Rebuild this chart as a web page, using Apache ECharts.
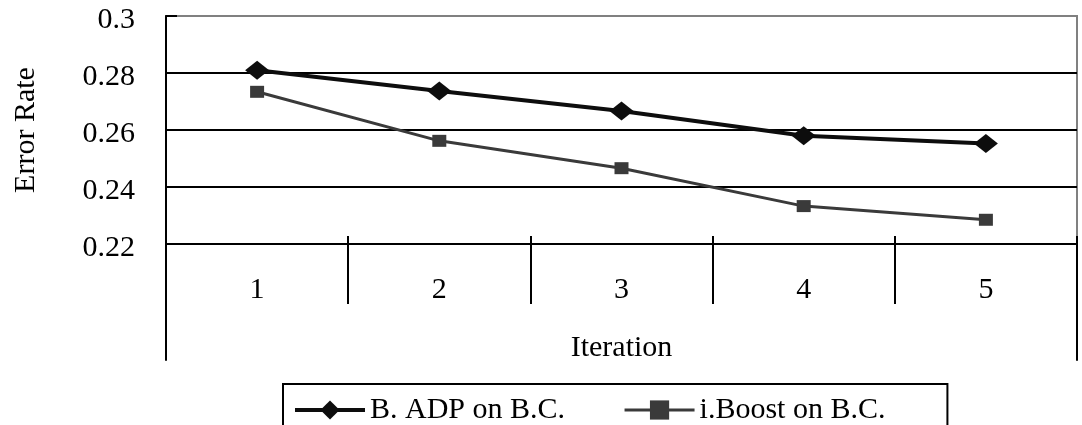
<!DOCTYPE html>
<html>
<head>
<meta charset="utf-8">
<script src="https://cdn.jsdelivr.net/npm/echarts@6/dist/echarts.min.js"></script>
<style>
  html, body { margin: 0; padding: 0; background: #fff; }
  #errChart { width: 1082px; height: 425px; }
</style>
</head>
<body>
<div id="errChart"></div>
<script>
  // values
  var iterations = ['1', '2', '3', '4', '5']
  var adpValues = [0.281, 0.2737, 0.2667, 0.258, 0.2553]
  var boostValues = [0.2734, 0.2562, 0.2466, 0.2333, 0.2285]
  var seriesNames = ['B. ADP on B.C.', 'i.Boost on B.C.']
  var yTicks = { min: 0.22, max: 0.3, step: 0.02 }

  var serif = 'Liberation Serif'
  var adpColor = '#0d0d0d'
  var boostColor = '#3a3a3a'

  var myChart = echarts.init(document.getElementById('errChart'))
  var option = {
    animation: false,
    backgroundColor: '#fff',
    grid: [
      { // plot area
        left: 166, right: 5, top: 16, bottom: 181,
        show: true, borderColor: '#808080', borderWidth: 2,
        outerBoundsMode: 'none'
      },
      { // frame under the axis
        left: 166, right: 5, top: 244, bottom: 65,
        outerBoundsMode: 'none'
      }
    ],
    legend: {
      left: 283,
      top: 384,
      orient: 'horizontal',
      borderColor: '#000',
      borderWidth: 2,
      padding: [11, 62, 40, 10],
      itemWidth: 70,
      itemHeight: 24,
      itemGap: 58,
      textStyle: { fontFamily: serif, fontSize: 30, color: '#000' },
      data: [
        { name: seriesNames[0], lineStyle: { color: adpColor, width: 4 }, itemStyle: { color: adpColor } },
        { name: seriesNames[1], lineStyle: { color: boostColor, width: 3 }, itemStyle: { color: boostColor } }
      ]
    },
    xAxis: [
      {
        gridIndex: 0,
        type: 'category',
        data: iterations,
        boundaryGap: true,
        axisLine: { show: true, onZero: false, lineStyle: { color: '#000', width: 2 } },
        axisTick: { show: true, length: 60, lineStyle: { color: '#000', width: 2 } },
        axisLabel: { fontFamily: serif, fontSize: 30, color: '#000', margin: 31 },
        splitLine: { show: false },
        name: 'Iteration',
        nameLocation: 'middle',
        nameGap: 89,
        nameTextStyle: { fontFamily: serif, fontSize: 30, color: '#000' }
      },
      { // short ticks poking up above the category axis
        gridIndex: 1,
        type: 'category',
        data: iterations,
        position: 'top',
        boundaryGap: true,
        axisLine: { show: false, onZero: false },
        axisTick: { show: true, inside: false, length: 8, lineStyle: { color: '#000', width: 2 } },
        axisLabel: { show: false },
        splitLine: { show: false }
      }
    ],
    yAxis: [
      {
        gridIndex: 0,
        type: 'value',
        min: yTicks.min,
        max: yTicks.max,
        interval: yTicks.step,
        axisLine: { show: true, lineStyle: { color: '#000', width: 2 } },
        axisTick: { show: true, inside: true, length: 11, lineStyle: { color: '#000', width: 2 } },
        axisLabel: {
          color: '#000',
          margin: 31,
          formatter: '{t|{value}}',
          rich: { t: { fontFamily: serif, fontSize: 30, color: '#000', padding: [9, 0, 0, 0] } }
        },
        splitLine: {
          show: true,
          lineStyle: { color: ['#000', '#000', '#000', '#000', '#808080'], width: 2 }
        },
        name: 'Error Rate',
        nameLocation: 'middle',
        nameGap: 125,
        nameTextStyle: { fontFamily: serif, fontSize: 30, color: '#000' }
      },
      {
        gridIndex: 1,
        type: 'value',
        position: 'left',
        axisLine: { show: true, onZero: false, lineStyle: { color: '#000', width: 2 } },
        axisTick: { show: false },
        axisLabel: { show: false },
        splitLine: { show: false }
      },
      {
        gridIndex: 1,
        type: 'value',
        position: 'right',
        axisLine: { show: true, onZero: false, lineStyle: { color: '#000', width: 2 } },
        axisTick: { show: false },
        axisLabel: { show: false },
        splitLine: { show: false }
      }
    ],
    series: [
      {
        name: seriesNames[1],
        type: 'line',
        xAxisIndex: 0,
        yAxisIndex: 0,
        data: boostValues,
        symbol: 'rect',
        symbolSize: [14, 12],
        itemStyle: { color: boostColor },
        lineStyle: { color: boostColor, width: 3 }
      },
      {
        name: seriesNames[0],
        type: 'line',
        xAxisIndex: 0,
        yAxisIndex: 0,
        data: adpValues,
        symbol: 'diamond',
        symbolSize: [24, 19],
        itemStyle: { color: adpColor },
        lineStyle: { color: adpColor, width: 4 }
      }
    ]
  }
  myChart.setOption(option)
</script>
</body>
</html>
